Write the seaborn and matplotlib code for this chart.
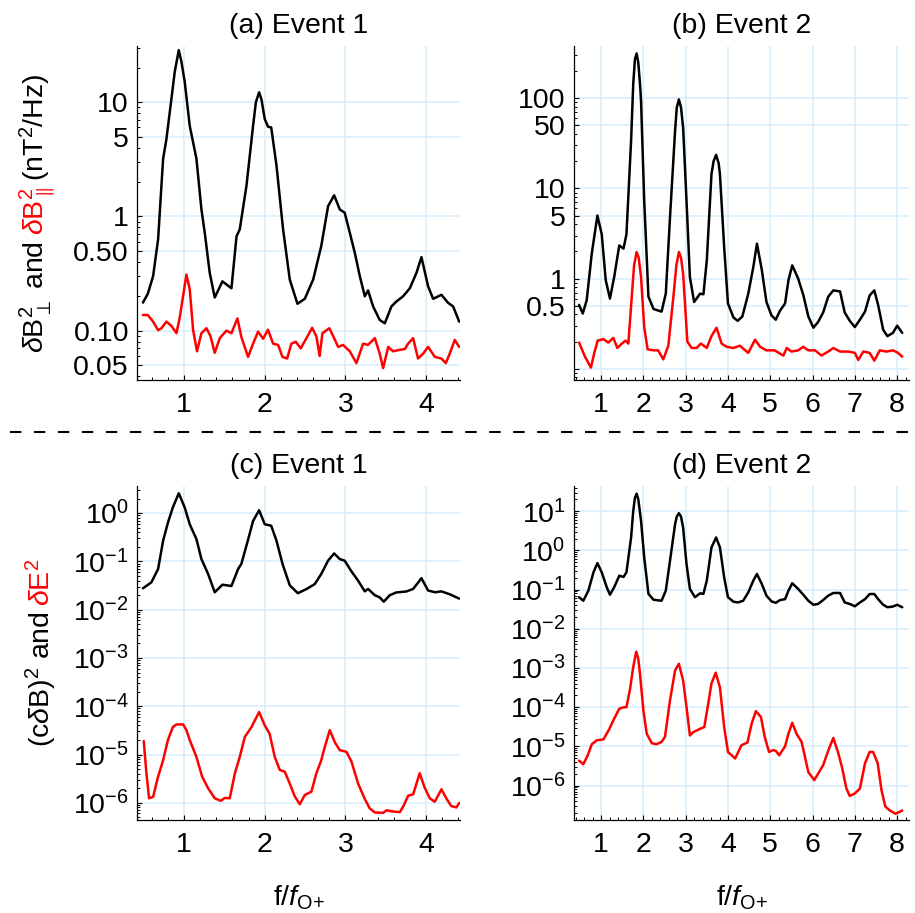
import numpy as np
import pandas as pd
import matplotlib
matplotlib.use("Agg")
import matplotlib.pyplot as plt
import seaborn as sns
from matplotlib.transforms import IdentityTransform
from matplotlib.ticker import FixedLocator, FixedFormatter, MultipleLocator, LogLocator, NullFormatter
from matplotlib.lines import Line2D

# ---------------- data ----------------
# Panel (a) Event 1: dB_perp^2 (black) and dB_par^2 (red), nT^2/Hz
a_black_f = [0.49, 0.55, 0.616, 0.678, 0.74, 0.78, 0.843, 0.884, 0.934, 0.967, 1.008, 1.07, 1.153, 1.215, 1.256,
             1.318, 1.38, 1.475, 1.587, 1.65, 1.69, 1.773, 1.855, 1.89, 1.93, 1.96, 2.0, 2.04, 2.08, 2.145,
             2.227, 2.31, 2.405, 2.496, 2.60, 2.70, 2.785, 2.86, 2.93, 2.99, 3.054, 3.116, 3.178, 3.24, 3.28,
             3.343, 3.425, 3.488, 3.57, 3.632, 3.715, 3.798, 3.88, 3.942, 4.025, 4.087, 4.19, 4.273, 4.335, 4.41]
a_black_v = [0.176, 0.21, 0.30, 0.63, 3.2, 4.7, 10.7, 18.4, 28.5, 22.6, 15, 6.2, 3.2, 1.15, 0.72,
             0.32, 0.195, 0.27, 0.235, 0.67, 0.77, 1.85, 6.2, 10.0, 12.2, 10.5, 7.1, 6.1, 6.0, 2.8,
             0.77, 0.28, 0.172, 0.19, 0.28, 0.55, 1.23, 1.53, 1.15, 1.08, 0.72, 0.48, 0.30, 0.20, 0.225,
             0.163, 0.124, 0.116, 0.163, 0.18, 0.20, 0.235, 0.32, 0.44, 0.244, 0.19, 0.206, 0.175, 0.163, 0.12]
a_red_f = [0.49, 0.55, 0.616, 0.678, 0.72, 0.78, 0.843, 0.905, 0.946, 1.029, 1.07, 1.112, 1.16, 1.215, 1.277,
           1.326, 1.38, 1.442, 1.525, 1.587, 1.661, 1.71, 1.793, 1.855, 1.917, 1.98, 2.04, 2.103, 2.165,
           2.219, 2.277, 2.33, 2.384, 2.446, 2.517, 2.587, 2.64, 2.68, 2.715, 2.8, 2.847, 2.91, 2.97, 3.054,
           3.136, 3.219, 3.28, 3.364, 3.425, 3.467, 3.53, 3.59, 3.674, 3.736, 3.777, 3.839, 3.9, 3.963,
           4.025, 4.108, 4.19, 4.244, 4.293, 4.355, 4.41]
a_red_v = [0.137, 0.137, 0.12, 0.101, 0.105, 0.12, 0.11, 0.095, 0.13, 0.31, 0.23, 0.101, 0.066, 0.095, 0.105,
           0.09, 0.064, 0.086, 0.10, 0.095, 0.128, 0.088, 0.059, 0.077, 0.098, 0.085, 0.102, 0.077, 0.075,
           0.059, 0.057, 0.077, 0.08, 0.07, 0.086, 0.106, 0.089, 0.06, 0.095, 0.105, 0.09, 0.072, 0.075, 0.066,
           0.052, 0.077, 0.075, 0.086, 0.063, 0.047, 0.072, 0.066, 0.068, 0.069, 0.077, 0.086, 0.057, 0.063,
           0.072, 0.059, 0.057, 0.052, 0.063, 0.083, 0.072]

# Panel (b) Event 2
b_black_f = [0.48, 0.567, 0.66, 0.78, 0.913, 1.016, 1.11, 1.21, 1.31, 1.43, 1.53, 1.6, 1.71, 1.76, 1.80, 1.84,
             1.88, 1.921, 1.945, 2.02, 2.12, 2.24, 2.43, 2.53, 2.63, 2.75, 2.79, 2.84, 2.89, 2.94, 3.02, 3.1,
             3.2, 3.34, 3.42, 3.5, 3.61, 3.66, 3.72, 3.78, 3.81, 3.91, 4.0, 4.13, 4.23, 4.34, 4.48, 4.6, 4.685,
             4.8, 4.91, 5.03, 5.13, 5.23, 5.35, 5.43, 5.52, 5.66, 5.78, 5.9, 6.02, 6.13, 6.25, 6.37, 6.49,
             6.65, 6.76, 6.88, 7.0, 7.12, 7.24, 7.35, 7.46, 7.55, 7.67, 7.77, 7.9, 8.0, 8.12]
b_black_v = [0.51, 0.41, 0.575, 1.89, 5.0, 3.1, 0.96, 0.6, 1.04, 2.33, 2.15, 3.1, 34, 143, 270, 314,
             248, 143, 94, 7.3, 0.63, 0.46, 0.43, 0.68, 4.8, 44, 79, 97, 79, 47, 7.3, 1.04,
             0.55, 0.68, 0.67, 1.6, 14.4, 20, 23.6, 19, 14.4, 2.24, 0.53, 0.37, 0.34, 0.38, 0.68, 1.35, 2.44,
             1.25, 0.55, 0.39, 0.35, 0.44, 0.53, 0.96, 1.40, 1.0, 0.66, 0.38, 0.285, 0.33, 0.42, 0.63, 0.74,
             0.72, 0.42, 0.34, 0.29, 0.35, 0.43, 0.65, 0.74, 0.51, 0.27, 0.23, 0.25, 0.3, 0.25]
b_red_f = [0.48, 0.62, 0.76, 0.84, 0.92, 1.055, 1.17, 1.29, 1.385, 1.49, 1.58, 1.645, 1.72, 1.78, 1.84, 1.89,
           1.945, 2.02, 2.1, 2.24, 2.35, 2.47, 2.59, 2.71, 2.78, 2.84, 2.89, 2.94, 3.04, 3.14, 3.26, 3.36,
           3.5, 3.61, 3.73, 3.85, 3.97, 4.13, 4.28, 4.48, 4.64, 4.76, 4.91, 5.1, 5.31, 5.39, 5.5, 5.66, 5.78,
           5.9, 6.06, 6.21, 6.37, 6.49, 6.65, 6.84, 7.0, 7.08, 7.2, 7.35, 7.46, 7.59, 7.75, 7.9, 8.02, 8.12]
b_red_v = [0.195, 0.136, 0.103, 0.15, 0.205, 0.213, 0.195, 0.22, 0.17, 0.19, 0.205, 0.19, 0.58, 1.4, 1.97, 1.7,
           1.04, 0.29, 0.164, 0.16, 0.16, 0.127, 0.18, 0.63, 1.4, 1.97, 1.7, 1.13, 0.2, 0.17, 0.17, 0.19,
           0.17, 0.23, 0.285, 0.19, 0.175, 0.17, 0.18, 0.15, 0.21, 0.175, 0.16, 0.16, 0.14, 0.17, 0.155, 0.16,
           0.175, 0.16, 0.16, 0.14, 0.155, 0.17, 0.155, 0.155, 0.15, 0.125, 0.155, 0.15, 0.123, 0.16, 0.155,
           0.16, 0.15, 0.136]

# Panel (c) Event 1: (c dB)^2 (black) and dE^2 (red)
c_black_f = [0.49, 0.595, 0.678, 0.74, 0.80, 0.86, 0.934, 1.008, 1.07, 1.153, 1.215, 1.298, 1.38, 1.475,
             1.587, 1.67, 1.71, 1.79, 1.855, 1.93, 2.0, 2.08, 2.145, 2.22, 2.31, 2.41, 2.52, 2.62, 2.70,
             2.785, 2.86, 2.93, 2.99, 3.07, 3.157, 3.24, 3.28, 3.364, 3.425, 3.475, 3.55, 3.63, 3.756,
             3.84, 3.942, 4.025, 4.11, 4.19, 4.29, 4.41]
c_black_v = [0.0278, 0.037, 0.07, 0.27, 0.64, 1.31, 2.59, 1.31, 0.59, 0.29, 0.112, 0.055, 0.023, 0.033,
             0.031, 0.07, 0.089, 0.27, 0.69, 1.15, 0.59, 0.55, 0.27, 0.089, 0.032, 0.022, 0.027, 0.034, 0.055,
             0.104, 0.147, 0.112, 0.104, 0.064, 0.04, 0.024, 0.027, 0.02, 0.018, 0.0147, 0.02, 0.0228, 0.0239,
             0.027, 0.045, 0.025, 0.023, 0.024, 0.021, 0.017]
c_red_f = [0.5, 0.533, 0.566, 0.616, 0.678, 0.74, 0.80, 0.86, 0.905, 0.988, 1.029, 1.07, 1.153, 1.223,
           1.298, 1.38, 1.455, 1.504, 1.566, 1.63, 1.69, 1.752, 1.835, 1.93, 2.0, 2.06, 2.124, 2.186,
           2.248, 2.31, 2.37, 2.434, 2.496, 2.578, 2.64, 2.70, 2.744, 2.806, 2.868, 2.93, 3.012, 3.074,
           3.157, 3.24, 3.3, 3.364, 3.467, 3.51, 3.59, 3.674, 3.715, 3.777, 3.84, 3.92, 3.98, 4.045,
           4.107, 4.19, 4.25, 4.31, 4.376, 4.41]
c_red_v = [1.9e-5, 4.1e-6, 1.24e-6, 1.33e-6, 3.5e-6, 7.6e-6, 2.0e-5, 3.7e-5, 4.2e-5, 4.2e-5, 3.2e-5, 2.0e-5,
           8.9e-6, 3.5e-6, 2.0e-6, 1.24e-6, 1.1e-6, 1.26e-6, 1.24e-6, 4.1e-6, 8.9e-6, 2.3e-5, 3.7e-5, 7.6e-5,
           4.0e-5, 2.7e-5, 8.9e-6, 4.8e-6, 4.4e-6, 2.5e-6, 1.38e-6, 9.3e-7, 1.45e-6, 1.7e-6, 4.1e-6, 7.6e-6,
           1.44e-5, 3.2e-5, 1.8e-5, 1.23e-5, 1.14e-5, 7.2e-6, 2.5e-6, 1.2e-6, 7.7e-7, 6.3e-7, 6.2e-7, 7.0e-7,
           6.6e-7, 6.4e-7, 8.3e-7, 1.4e-6, 1.5e-6, 4.1e-6, 2.1e-6, 1.24e-6, 1.05e-6, 1.9e-6, 1.24e-6, 8.6e-7,
           8.0e-7, 9.9e-7]

# Panel (d) Event 2
d_black_f = [0.48, 0.58, 0.7, 0.82, 0.913, 1.016, 1.134, 1.21, 1.31, 1.43, 1.53, 1.6, 1.71, 1.76, 1.80, 1.84,
             1.88, 1.92, 1.945, 2.02, 2.12, 2.24, 2.43, 2.53, 2.63, 2.75, 2.79, 2.84, 2.89, 2.94, 3.02, 3.1,
             3.22, 3.34, 3.42, 3.5, 3.61, 3.72, 3.81, 3.91, 4.0, 4.13, 4.24, 4.36, 4.48, 4.6, 4.685, 4.8, 4.91,
             5.03, 5.13, 5.23, 5.35, 5.43, 5.52, 5.66, 5.78, 5.9, 6.02, 6.13, 6.25, 6.37, 6.49, 6.65, 6.76,
             6.88, 7.0, 7.12, 7.24, 7.35, 7.46, 7.55, 7.67, 7.77, 7.9, 8.0, 8.12]
d_black_v = [0.064, 0.052, 0.094, 0.275, 0.475, 0.275, 0.115, 0.074, 0.115, 0.226, 0.21, 0.275, 2.14, 10, 22, 28,
             20, 9.3, 5.7, 0.66, 0.078, 0.055, 0.052, 0.094, 0.545, 4.7, 7.3, 8.9, 7.3, 3.8, 0.45, 0.104,
             0.064, 0.08, 0.078, 0.17, 1.19, 2.14, 1.19, 0.205, 0.064, 0.049, 0.047, 0.052, 0.085, 0.17, 0.25,
             0.139, 0.07, 0.05, 0.046, 0.054, 0.057, 0.094, 0.145, 0.104, 0.074, 0.052, 0.041, 0.043, 0.054,
             0.07, 0.082, 0.082, 0.047, 0.043, 0.0375, 0.047, 0.057, 0.077, 0.077, 0.057, 0.041, 0.0355, 0.037,
             0.041, 0.0355]
d_red_f = [0.48, 0.58, 0.685, 0.78, 0.9, 1.055, 1.19, 1.31, 1.43, 1.53, 1.6, 1.685, 1.76, 1.83, 1.88, 1.92,
           2.0, 2.08, 2.2, 2.31, 2.43, 2.51, 2.63, 2.75, 2.84, 2.94, 3.02, 3.1, 3.18, 3.34, 3.44, 3.52, 3.61,
           3.71, 3.81, 3.91, 4.0, 4.17, 4.32, 4.46, 4.56, 4.66, 4.78, 4.87, 4.97, 5.07, 5.13, 5.21, 5.35, 5.43,
           5.52, 5.62, 5.74, 5.82, 5.9, 6.04, 6.13, 6.25, 6.37, 6.49, 6.6, 6.7, 6.8, 6.88, 7.0, 7.12, 7.24,
           7.35, 7.43, 7.54, 7.63, 7.72, 7.83, 7.96, 8.12]
d_red_v = [4.3e-6, 3.5e-6, 5.9e-6, 1.13e-5, 1.43e-5, 1.5e-5, 2.7e-5, 5.1e-5, 9.1e-5, 9.9e-5, 1.0e-4, 2.9e-4,
           1.05e-3, 2.6e-3, 1.7e-3, 7.1e-4, 8.3e-5, 2.1e-5, 1.2e-5, 1.13e-5, 1.3e-5, 1.74e-5, 1.5e-4, 8.7e-4,
           1.28e-3, 4.8e-4, 1.0e-4, 1.9e-5, 2.3e-5, 2.8e-5, 3.1e-5, 1.0e-4, 4.0e-4, 7.6e-4, 3.2e-4, 3.1e-5,
           7.2e-6, 4.9e-6, 1.07e-5, 1.25e-5, 3.8e-5, 7.9e-5, 5.6e-5, 1.74e-5, 7.2e-6, 8.0e-6, 7.7e-6, 5.9e-6,
           1.0e-5, 2.1e-5, 4.0e-5, 2.1e-5, 1.3e-5, 5.4e-6, 2.2e-6, 1.38e-6, 2.0e-6, 3.3e-6, 7.7e-6, 1.64e-5,
           7.2e-6, 2.8e-6, 8.4e-7, 5.4e-7, 6.3e-7, 8.4e-7, 3.7e-6, 7.2e-6, 7.2e-6, 3.7e-6, 7.6e-7, 2.9e-7,
           2.3e-7, 1.9e-7, 2.3e-7]

titles = ["(a) Event 1", "(b) Event 2", "(c) Event 1", "(d) Event 2"]
a_yticks = [0.05, 0.1, 0.5, 1, 5, 10]
a_yticklabels = ["0.05", "0.10", "0.50", "1", "5", "10"]
b_yticks = [0.1, 0.5, 1, 5, 10, 50, 100]
b_yticklabels = ["", "0.5", "1", "5", "10", "50", "100"]
c_yticks = [1e-6, 1e-5, 1e-4, 1e-3, 1e-2, 1e-1, 1e0]
c_yticklabels = [r"$10^{-6}$", r"$10^{-5}$", r"$10^{-4}$", r"$10^{-3}$", r"$10^{-2}$", r"$10^{-1}$", r"$10^{0}$"]
d_yticks = [1e-6, 1e-5, 1e-4, 1e-3, 1e-2, 1e-1, 1e0, 1e1]
d_yticklabels = c_yticklabels + [r"$10^{1}$"]
event1_xticks = [1, 2, 3, 4]
event2_xticks = [1, 2, 3, 4, 5, 6, 7, 8]

# ---------------- style ----------------
sns.set_style("ticks")
plt.rcParams['font.family'] = ['Liberation Sans', 'DejaVu Sans']
plt.rcParams['mathtext.fontset'] = 'custom'
plt.rcParams['mathtext.rm'] = 'Liberation Sans'
plt.rcParams['mathtext.it'] = 'Liberation Sans:italic'
plt.rcParams['mathtext.bf'] = 'Liberation Sans:bold'
for k in ['text.color', 'axes.labelcolor', 'xtick.color', 'ytick.color', 'axes.edgecolor']:
    plt.rcParams[k] = 'black'

FS = 20.5
GRID = '#d6eefc'
W, H = 915, 913
fig = plt.figure(figsize=(W / 100, H / 100), dpi=100)


def px_axes(l, t, r, b):
    return fig.add_axes([l / W, 1 - b / H, (r - l) / W, (b - t) / H])


axA = px_axes(137.3, 46, 460, 380)
axB = px_axes(574, 46, 909, 380)
axC = px_axes(137.3, 486, 460, 820)
axD = px_axes(574, 486, 909, 820)

panels = [
    (axA, a_black_f, a_black_v, a_red_f, a_red_v, (0.42, 4.42), (0.037, 31), a_yticks, a_yticklabels, event1_xticks),
    (axB, b_black_f, b_black_v, b_red_f, b_red_v, (0.36, 8.28), (0.075, 380), b_yticks, b_yticklabels, event2_xticks),
    (axC, c_black_f, c_black_v, c_red_f, c_red_v, (0.42, 4.42), (4.4e-7, 3.66), c_yticks, c_yticklabels, event1_xticks),
    (axD, d_black_f, d_black_v, d_red_f, d_red_v, (0.36, 8.28), (1.32e-7, 44), d_yticks, d_yticklabels, event2_xticks),
]

for (ax, bf, bv, rf, rv, xl, yl, yt, ytl, xt), title in zip(panels, titles):
    dfb = pd.DataFrame({"f": bf, "v": bv})
    dfr = pd.DataFrame({"f": rf, "v": rv})
    sns.lineplot(data=dfb, x="f", y="v", ax=ax, color="black", linewidth=1.8, estimator=None, sort=False)
    sns.lineplot(data=dfr, x="f", y="v", ax=ax, color="#ff0000", linewidth=1.8, estimator=None, sort=False)
    ax.set_yscale("log")
    ax.set_xlim(*xl)
    ax.set_ylim(*yl)
    ax.set_xlabel("")
    ax.set_ylabel("")
    ax.yaxis.set_major_locator(FixedLocator(yt))
    ax.yaxis.set_major_formatter(FixedFormatter(ytl))
    ax.yaxis.set_minor_locator(LogLocator(base=10, subs=np.arange(2, 10), numticks=50))
    ax.yaxis.set_minor_formatter(NullFormatter())
    ax.xaxis.set_major_locator(FixedLocator(xt))
    ax.xaxis.set_major_formatter(FixedFormatter([str(v) for v in xt]))
    ax.xaxis.set_minor_locator(MultipleLocator(0.2))
    ax.grid(True, which="major", color=GRID, linewidth=1.1)
    ax.set_axisbelow(True)
    for s in ["top", "right"]:
        ax.spines[s].set_visible(False)
    for s in ["left", "bottom"]:
        ax.spines[s].set_linewidth(0.9)
        ax.spines[s].set_color("black")
    ax.tick_params(which="major", direction="in", length=3.4, width=0.8, labelsize=FS, colors="black")
    ax.tick_params(which="minor", direction="in", length=2.0, width=0.7, colors="black")
    ax.tick_params(axis="y", which="major", pad=6.0)
    ax.tick_params(axis="x", which="major", pad=8.5)
    ax.set_title(title, fontsize=FS, pad=9.5, color="black")

# x labels
for xc in [(137.3 + 460) / 2, (574 + 909) / 2]:
    fig.text(xc / W, 1 - 905 / H, r"f/$f_{\mathrm{O}{+}}$", fontsize=FS, ha="center", va="baseline", color="black")


# multi-coloured rotated y labels
def stacked_ylabel(x_base, y_center, pieces, gap=6.0):
    renderer = fig.canvas.get_renderer()
    texts = []
    for s, c in pieces:
        t = fig.text(0, 0, s, color=c, fontsize=FS, rotation=90, rotation_mode="anchor",
                     ha="left", va="baseline", transform=IdentityTransform())
        texts.append(t)
    lengths = [t.get_window_extent(renderer).height for t in texts]
    total = sum(lengths) + gap * (len(texts) - 1)
    y0 = (H - y_center) - total / 2
    for t, L in zip(texts, lengths):
        t.set_position((x_base, y0))
        y0 += L + gap


stacked_ylabel(44, (46 + 380) / 2, [
    (r"$\mathit{\delta}\mathrm{B}_{\perp}^{2}$ and", "black"),
    (r"$\mathit{\delta}\mathrm{B}_{\parallel}^{2}$", "#ff0000"),
    (r"(n$\mathrm{T}^{2}$/Hz)", "black"),
])
stacked_ylabel(50, (486 + 820) / 2, [
    (r"(c$\mathit{\delta}$B)$^{2}$ and", "black"),
    (r"$\mathit{\delta}\mathrm{E}^{2}$", "#ff0000"),
])

# dashed separator
fig.add_artist(Line2D([10 / W, 910 / W], [1 - 431.7 / H, 1 - 431.7 / H], transform=fig.transFigure,
                      color="black", linewidth=1.5, linestyle=(0, (5.5, 6))))

fig.savefig("out.png", dpi=100)
